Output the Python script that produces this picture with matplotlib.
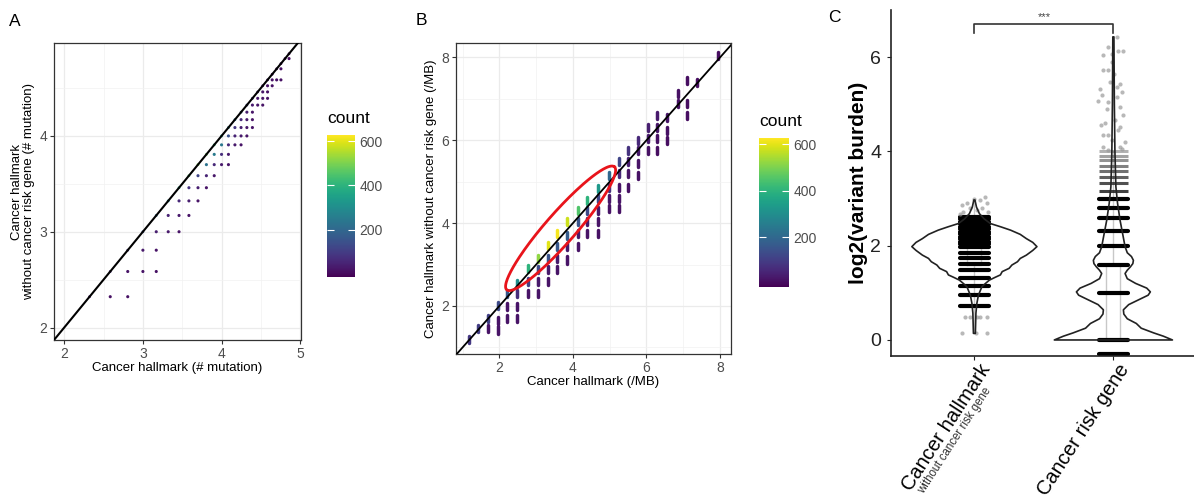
import numpy as np
import matplotlib
matplotlib.use('Agg')
import matplotlib.pyplot as plt
from matplotlib import colors as mcolors
from matplotlib.cm import ScalarMappable

plt.rcParams['font.family'] = ['Liberation Sans', 'DejaVu Sans']

# ---------------- panel A : number of mutations (log2) ----------------
a_hallmark = [6, 7, 7, 8, 9, 8, 9, 9, 10, 11, 10, 11, 12, 11, 12, 13, 12, 13, 14,
              13, 14, 15, 14, 15, 16, 17, 15, 16, 17, 16, 17, 18, 19, 17, 18, 19,
              20, 18, 19, 20, 21, 19, 20, 21, 20, 21, 21, 22, 23, 22, 23, 24, 23,
              24, 24, 25, 25, 26, 27, 27, 29]
a_without = [5, 5, 6, 6, 6, 7, 7, 8, 8, 8, 9, 9, 9, 10, 10, 10, 11, 11, 11,
             12, 12, 12, 13, 13, 13, 13, 14, 14, 14, 15, 15, 15, 15, 16, 16, 16,
             16, 17, 17, 17, 17, 18, 18, 18, 19, 19, 20, 20, 20, 21, 21, 21, 22,
             22, 23, 23, 24, 24, 24, 26, 28]
a_count = [15, 15, 20, 20, 15, 30, 20, 40, 30, 20, 50, 30, 20, 60, 40, 20, 80, 40, 20,
           120, 50, 25, 230, 60, 30, 20, 250, 70, 30, 240, 60, 30, 20, 150, 50, 30,
           20, 90, 40, 25, 20, 60, 30, 20, 40, 25, 35, 25, 20, 30, 20, 15, 25,
           15, 20, 15, 20, 15, 15, 15, 10]
# samples with no cancer-risk-gene mutation (on the diagonal)
a_diag = [5, 6, 7, 8, 9, 10, 11, 12, 13, 14, 15, 16, 17, 18, 19, 20, 21, 22, 23, 24, 25, 26, 27, 28, 29]
a_diag_count = [40, 60, 90, 150, 220, 300, 380, 450, 500, 480, 420, 350, 280, 220, 160, 120, 90, 60, 40, 30, 20, 15, 12, 10, 8]

# ---------------- panel B : per-MB burden ----------------
b_x = [1.17, 1.41, 1.68, 1.68, 1.95, 1.95, 1.95, 2.22, 2.22, 2.22,
       2.49, 2.49, 2.49, 2.49, 2.78, 2.78, 2.78, 3.04, 3.04, 3.04, 3.04,
       3.31, 3.31, 3.31, 3.31, 3.58, 3.58, 3.58, 3.58, 3.85, 3.85, 3.85, 3.85,
       4.14, 4.14, 4.14, 4.14, 4.39, 4.39, 4.39, 4.39, 4.68, 4.68, 4.68, 4.68, 4.68,
       4.97, 4.97, 4.97, 4.97, 5.24, 5.24, 5.24, 5.24, 5.24, 5.51, 5.51, 5.51, 5.51,
       5.76, 5.76, 5.76, 5.76, 6.03, 6.03, 6.03, 6.30, 6.30, 6.30, 6.30,
       6.57, 6.57, 6.57, 6.87, 6.87, 7.11, 7.11, 7.11, 7.38, 7.95]
b_y = [1.18, 1.46, 1.70, 1.45, 2.02, 1.66, 1.42, 2.31, 1.98, 1.70,
       2.55, 2.31, 1.98, 1.70, 2.91, 2.59, 2.31, 3.15, 2.87, 2.59, 2.31,
       3.47, 3.15, 2.87, 2.59, 3.75, 3.43, 3.15, 2.87, 4.03, 3.71, 3.43, 3.11,
       4.31, 4.03, 3.75, 3.43, 4.55, 4.31, 4.03, 3.75, 4.84, 4.60, 4.31, 4.03, 3.75,
       5.16, 4.87, 4.60, 4.35, 5.48, 5.20, 4.87, 4.60, 4.35, 5.76, 5.48, 5.20, 4.87,
       6.00, 5.76, 5.44, 5.16, 6.32, 6.04, 5.76, 6.60, 6.32, 6.04, 5.76,
       6.56, 6.24, 6.00, 7.12, 6.88, 7.45, 6.88, 6.60, 7.40, 8.05]
b_count = [90, 100, 110, 20, 130, 20, 20, 160, 20, 20,
           300, 70, 20, 20, 400, 110, 20, 520, 130, 30, 20,
           600, 150, 30, 20, 620, 160, 30, 20, 580, 170, 30, 20,
           450, 150, 30, 20, 400, 130, 30, 20, 330, 120, 30, 20, 15,
           200, 80, 25, 20, 120, 60, 20, 20, 15, 80, 40, 20, 15,
           60, 30, 20, 15, 40, 30, 15, 30, 25, 15, 10,
           25, 15, 10, 15, 15, 10, 10, 10, 10, 10]

# ---------------- panel C : variant burden ----------------
groups = ['Cancer hallmark', 'Cancer risk gene']
# violin half-widths (in category units) at given heights
hm_vio_y = [0.14, 0.57, 0.78, 0.95, 1.13, 1.20, 1.27, 1.33, 1.38, 1.45, 1.52, 1.59, 1.66, 1.73, 1.80, 1.90, 1.98, 2.07, 2.15, 2.24, 2.33, 2.40, 2.47, 2.57, 2.68, 2.82, 2.97]
hm_vio_w = [0.007, 0.011, 0.018, 0.029, 0.054, 0.08, 0.108, 0.15, 0.187, 0.20, 0.25, 0.27, 0.31, 0.33, 0.374, 0.42, 0.45, 0.42, 0.374, 0.33, 0.26, 0.19, 0.115, 0.07, 0.036, 0.015, 0.004]
rg_vio_y = [0.0, 0.08, 0.15, 0.25, 0.35, 0.45, 0.55, 0.64, 0.75, 0.85, 0.95, 1.02, 1.10, 1.20, 1.30, 1.41, 1.48, 1.55, 1.62, 1.69, 1.77, 1.85, 1.98, 2.2, 2.54, 2.9, 3.25, 4.0, 5.0, 6.43]
rg_vio_w = [0.425, 0.36, 0.29, 0.2, 0.165, 0.1, 0.075, 0.072, 0.11, 0.18, 0.25, 0.266, 0.24, 0.16, 0.1, 0.084, 0.1, 0.122, 0.14, 0.144, 0.13, 0.1, 0.084, 0.07, 0.048, 0.03, 0.018, 0.011, 0.007, 0.004]

# tied values plotted as jittered points (appear as dense horizontal strips)
hm_levels = [0.72, 0.95, 1.14, 1.32, 1.48, 1.61, 1.73, 1.85, 1.98, 2.03, 2.08, 2.14, 2.19, 2.25,
             2.30, 2.35, 2.40, 2.46, 2.51, 2.56, 2.61]
hm_sparse_dx = [-0.091, 0.01, 0.089, -0.067, -0.031, 0.017, 0.041, 0.089,
                -0.091, -0.055, 0.041, 0.077, 0.089, -0.079, -0.031, 0.053, 0.101, -0.103, 0.0, 0.02]
hm_sparse_y = [0.14, 0.14, 0.14, 0.49, 0.49, 0.49, 0.49, 0.49,
               2.86, 2.90, 2.97, 3.04, 2.90, 2.72, 2.79, 2.79, 2.72, 2.68, 3.0, 2.75]
rg_levels = [-0.29, 0.0, 1.0, 1.58, 2.0, 2.32, 2.58, 2.81, 3.0]
rg_faint_levels = [3.17, 3.32, 3.46, 3.58, 3.70, 3.81, 3.91, 4.0]
rg_sparse_dx = [0.024, -0.036, 0.072, 0.036, -0.072, -0.012, -0.012, -0.072, -0.036, 0.005,
                -0.024, 0.048, 0.029, -0.096, -0.084, 0.06, 0.029, -0.108, -0.036, 0.048,
                -0.048, 0.072, 0.012, -0.089, 0.048, 0.036, -0.072, -0.036, -0.072, 0.048,
                0.06, -0.036, -0.012, 0.08, -0.06]
rg_sparse_y = [6.43, 6.21, 6.14, 6.14, 6.04, 6.07, 5.90, 5.72, 5.72, 5.65,
               5.47, 5.44, 5.37, 5.33, 5.19, 5.26, 5.15, 5.08, 5.05, 4.94,
               4.91, 4.77, 4.66, 4.56, 4.52, 4.45, 4.34, 4.34, 4.10, 4.10,
               4.05, 4.02, 4.25, 4.20, 4.60]
hm_box = dict(med=2.0, q1=1.6, q3=2.3, whislo=0.14, whishi=2.97, fliers=[])
rg_box = dict(med=1.0, q1=0.0, q3=1.6, whislo=0.0, whishi=4.0, fliers=[])

# ---------------------------------------------------------------------
W, H = 1194, 498
fig = plt.figure(figsize=(W / 100, H / 100), dpi=100)


def box(l, r, t, b):
    return [l / W, 1 - b / H, (r - l) / W, (b - t) / H]


cmap = plt.get_cmap('viridis')
norm = mcolors.Normalize(vmin=-15, vmax=628)
tick_gray = '#4D4D4D'


def ggplot_bw(ax):
    ax.set_facecolor('white')
    ax.grid(True, which='major', color='#EBEBEB', lw=0.9, zorder=0)
    ax.grid(True, which='minor', color='#F2F2F2', lw=0.5, zorder=0)
    ax.set_axisbelow(True)
    for s in ax.spines.values():
        s.set_color('#333333')
        s.set_linewidth(0.9)
    ax.tick_params(which='major', length=3, width=0.8, color='#333333',
                   labelsize=10, labelcolor=tick_gray, pad=2)
    ax.tick_params(which='minor', length=0)


def add_cbar(rect):
    cax = fig.add_axes(rect)
    cb = fig.colorbar(ScalarMappable(norm=norm, cmap=cmap), cax=cax)
    cb.outline.set_visible(False)
    cb.set_ticks([200, 400, 600])
    cax.yaxis.set_ticks_position('both')
    cax.tick_params(direction='in', length=5, width=0.8, color='white',
                    labelsize=10, labelcolor=tick_gray, labelleft=False, labelright=True, pad=3)
    cax.text(0.0, 1.06, 'count', transform=cax.transAxes, fontsize=12.5, ha='left', va='bottom')
    return cb


# ---- A
axA = fig.add_axes(box(54, 301, 43, 340))
ggplot_bw(axA)
axA.set_xlim(1.87, 5.01)
axA.set_ylim(1.87, 4.97)
axA.set_xticks([2, 3, 4, 5])
axA.set_yticks([2, 3, 4])
axA.set_xticks([2.5, 3.5, 4.5], minor=True)
axA.set_yticks([2.5, 3.5, 4.5], minor=True)
axA.scatter(np.log2(a_diag), np.log2(a_diag), c=a_diag_count, cmap=cmap, norm=norm, s=4, lw=0, zorder=2)
axA.scatter(np.log2(a_hallmark), np.log2(a_without), c=a_count, cmap=cmap, norm=norm, s=5, lw=0, zorder=2)
axA.axline((2, 2), slope=1, color='black', lw=1.5, zorder=3)
axA.set_xlabel('Cancer hallmark (# mutation)', fontsize=9.5, labelpad=1)
axA.set_ylabel('Cancer hallmark\nwithout cancer risk gene (# mutation)', fontsize=9.5,
               labelpad=3, linespacing=1.0)
add_cbar(box(327, 355, 135, 277))

# ---- B
axB = fig.add_axes(box(456, 731, 43, 354))
ggplot_bw(axB)
axB.set_xlim(0.82, 8.3)
axB.set_ylim(0.84, 8.35)
axB.set_xticks([2, 4, 6, 8])
axB.set_yticks([2, 4, 6, 8])
axB.set_xticks([1, 3, 5, 7], minor=True)
axB.set_yticks([1, 3, 5, 7], minor=True)
by = np.array(b_y)
seg = axB.vlines(b_x, by - 0.085, by + 0.085, colors=cmap(norm(b_count)), lw=2.5, zorder=2)
seg.set_capstyle('round')
axB.axline((2, 2), slope=1, color='black', lw=1.3, zorder=3)
axB.set_xlabel('Cancer hallmark (/MB)', fontsize=9.5, labelpad=1)
axB.set_ylabel('Cancer hallmark without cancer risk gene (/MB)', fontsize=9.5, labelpad=3)
add_cbar(box(759, 789, 138, 287))

# red highlight around the high-count diagonal cells
fig.canvas.draw()
ell_a = np.array([2.2, 2.39])
ell_b = np.array([5.13, 5.36])
pa, pb = axB.transData.transform([ell_a, ell_b])
ctr = (pa + pb) / 2
u = (pb - pa) / 2
v = np.array([-u[1], u[0]]) / np.hypot(*u) * 15
t = np.linspace(0, 2 * np.pi, 200)
pts = ctr + np.outer(np.cos(t), u) + np.outer(np.sin(t), v)
pts = axB.transData.inverted().transform(pts)
axB.plot(pts[:, 0], pts[:, 1], color='#E8141B', lw=2.0, zorder=4)

# ---- C
axC = fig.add_axes(box(891, 1194, 10, 356))
axC.set_xlim(0.40, 2.58)
axC.set_ylim(-0.34, 7.0)
for s in ['top', 'right']:
    axC.spines[s].set_visible(False)
for s in ['left', 'bottom']:
    axC.spines[s].set_color('#222222')
    axC.spines[s].set_linewidth(1.2)
axC.set_yticks([0, 2, 4, 6])
axC.set_xticks([1, 2])
axC.set_xticklabels(['', ''])
axC.tick_params(axis='y', labelsize=14, length=3, color='#222222', labelcolor='#222222', pad=4)
axC.tick_params(axis='x', length=3, color='#222222')
axC.set_ylabel('log2(variant burden)', fontsize=15, fontweight='bold', labelpad=2)

axC.bxp([hm_box, rg_box], positions=[1, 2], widths=0.1, showcaps=False,
        boxprops=dict(color='#C8C8C8', lw=1), whiskerprops=dict(color='#C8C8C8', lw=1),
        medianprops=dict(color='#C8C8C8', lw=1), manage_ticks=False, zorder=1)

bar_half = 0.105
hl = axC.hlines(hm_levels, 1 - bar_half, 1 + bar_half, colors='black', lw=3.0, zorder=2)
hl.set_capstyle('round')
hl = axC.hlines(rg_levels, 2 - bar_half, 2 + bar_half, colors='black', lw=3.0, zorder=2)
hl.set_capstyle('round')
faint_alpha = np.linspace(0.75, 0.3, len(rg_faint_levels))
for lv, al in zip(rg_faint_levels, faint_alpha):
    axC.hlines(lv, 2 - bar_half, 2 + bar_half, colors='black', lw=2.2, alpha=al, zorder=2)
axC.scatter(1 + np.array(hm_sparse_dx), hm_sparse_y, s=9, color='#9A9A9A', alpha=0.7, lw=0, zorder=2)
axC.scatter(2 + np.array(rg_sparse_dx), rg_sparse_y, s=9, color='#9A9A9A', alpha=0.7, lw=0, zorder=2)

for pos, vy, vw in [(1, hm_vio_y, hm_vio_w), (2, rg_vio_y, rg_vio_w)]:
    vw = np.array(vw)
    axC.fill_betweenx(vy, pos - vw, pos + vw, facecolor='none', edgecolor='#222222', lw=1.2, zorder=3)

axC.plot([1, 1, 2, 2], [6.52, 6.71, 6.71, 6.52], color='#333333', lw=1.2, clip_on=False)
axC.text(1.5, 6.74, '***', ha='center', va='bottom', fontsize=8, color='#444444')

# rotated category labels
for pos, name in zip([1, 2], groups):
    axC.annotate(name, xy=(pos, 0), xycoords=('data', 'axes fraction'),
                 xytext=(3, -3), textcoords='offset points', rotation=57,
                 rotation_mode='anchor', ha='right', va='top', fontsize=14.5, annotation_clip=False)
axC.annotate('without cancer risk gene', xy=(1, 0), xycoords=('data', 'axes fraction'),
             xytext=(6.5, -21), textcoords='offset points', rotation=57,
             rotation_mode='anchor', ha='right', va='top', fontsize=8.3, color='#333333',
             annotation_clip=False)

# panel letters
fig.text(15 / W, 1 - 22 / H, 'A', fontsize=12.5, va='center', ha='center')
fig.text(421 / W, 1 - 20 / H, 'B', fontsize=12.5, va='center', ha='center')
fig.text(834 / W, 1 - 18 / H, 'C', fontsize=12.5, va='center', ha='center')

fig.savefig('out.png', dpi=100)
